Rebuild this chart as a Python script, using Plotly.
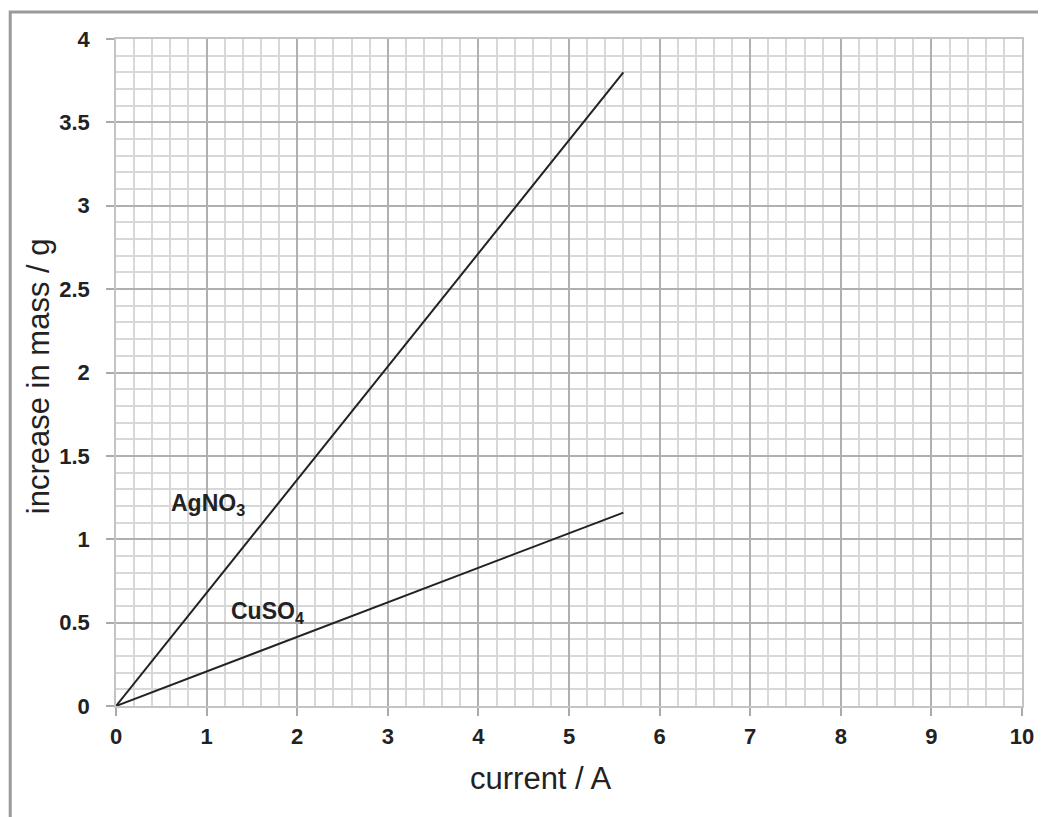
import plotly.graph_objects as go

# Data
current_A = [0, 5.6]
agno3_mass = [0, 3.8]
cuso4_mass = [0, 1.16]

x_ticks = [0, 1, 2, 3, 4, 5, 6, 7, 8, 9, 10]
y_ticks = [0, 0.5, 1, 1.5, 2, 2.5, 3, 3.5, 4]
y_tick_text = ["0", "0.5", "1", "1.5", "2", "2.5", "3", "3.5", "4"]

label_names = ["AgNO<sub>3</sub>", "CuSO<sub>4</sub>"]
label_x = [1.01, 1.67]
label_y = [1.21, 0.56]

narrow = "Liberation Sans Narrow, Arial Narrow, Liberation Sans, Arial"
tick_font = dict(family=narrow, size=22, color="#222")
title_font = dict(family="Liberation Sans, Arial, sans-serif", size=31, color="#222")

# page body has an 8px margin; figure sized so the plot area lands where the reference has it
W, H = 1038, 809
L, R, T, B = 108, 22, 31, 111
pw, ph = W - L - R, H - T - B

fig = go.Figure()
fig.add_trace(go.Scatter(x=current_A, y=agno3_mass, mode="lines",
                         line=dict(color="#222", width=2), showlegend=False))
fig.add_trace(go.Scatter(x=current_A, y=cuso4_mass, mode="lines",
                         line=dict(color="#222", width=2), showlegend=False))

for name, lx, ly in zip(label_names, label_x, label_y):
    fig.add_annotation(x=lx, y=ly, text="<b>" + name + "</b>", showarrow=False,
                       xanchor="center", yanchor="middle",
                       font=dict(family=narrow, size=23, color="#222"))

fig.update_xaxes(range=[0, 10], tickmode="array", tickvals=x_ticks,
                 ticktext=[f"<b>{t}</b>" for t in x_ticks],
                 tickfont=tick_font, ticks="outside", ticklen=8, tickcolor="#aaa",
                 tickwidth=1.5, ticklabelstandoff=2,
                 showgrid=True, gridcolor="#b0b0b0", gridwidth=1.5,
                 minor=dict(dtick=0.2, tick0=0, showgrid=True, gridcolor="#d8d8d8", gridwidth=1.5),
                 zeroline=False, showline=True, linecolor="#c4c4c4", linewidth=1.5, mirror=True)
fig.update_yaxes(range=[0, 4], tickmode="array", tickvals=y_ticks,
                 ticktext=[f"<b>{t}</b>" for t in y_tick_text],
                 tickfont=tick_font, ticks="outside", ticklen=8, tickcolor="#aaa",
                 tickwidth=1.5, ticklabelstandoff=12,
                 showgrid=True, gridcolor="#b0b0b0", gridwidth=1.5,
                 minor=dict(dtick=0.1, tick0=0, showgrid=True, gridcolor="#d8d8d8", gridwidth=1.5),
                 zeroline=False, showline=True, linecolor="#c4c4c4", linewidth=1.5, mirror=True)

# axis titles (pixel positions converted to plot-area fractions)
def px(xp):
    return (xp - 8 - L) / pw

def py(yp):
    return (T + ph - (yp - 8)) / ph

fig.add_annotation(xref="paper", yref="paper", x=px(542), y=py(778),
                   text="current / A", showarrow=False, xanchor="center", yanchor="middle",
                   font=title_font)
fig.add_annotation(xref="paper", yref="paper", x=px(38), y=py(376),
                   text="increase in mass / g", showarrow=False, xanchor="center", yanchor="middle",
                   textangle=-90, font=title_font)

# outer frame (left and top edges of the page box)
fig.add_shape(type="path", xref="paper", yref="paper",
              path=f"M {px(10)} {py(840)} L {px(10)} {py(12)} L {px(1070)} {py(12)}",
              line=dict(color="#9a9a9a", width=3))

fig.update_layout(width=W, height=H, paper_bgcolor="white", plot_bgcolor="white",
                  margin=dict(l=L, r=R, t=T, b=B))

fig.write_html("out.html")
